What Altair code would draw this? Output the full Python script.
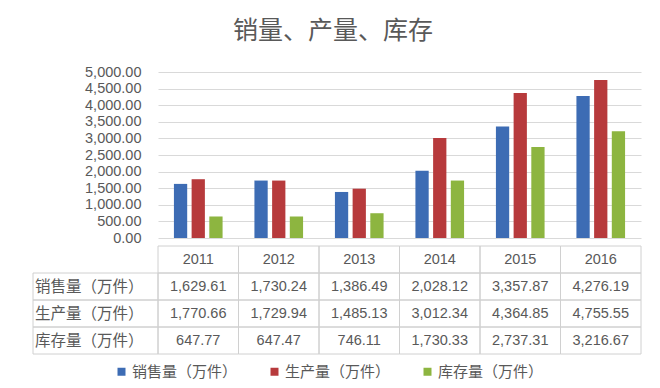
import altair as alt
import pandas as pd

# ---- data ----
years = ["2011", "2012", "2013", "2014", "2015", "2016"]
series = ["销售量（万件）", "生产量（万件）", "库存量（万件）"]
sales = [1629.61, 1730.24, 1386.49, 2028.12, 3357.87, 4276.19]
production = [1770.66, 1729.94, 1485.13, 3012.34, 4364.85, 4755.55]
inventory = [647.77, 647.47, 746.11, 1730.33, 2737.31, 3216.67]
y_ticks = [0, 500, 1000, 1500, 2000, 2500, 3000, 3500, 4000, 4500, 5000]
colors = ["#3D6CB4", "#B73A3C", "#8DB540"]

# ---- styling ----
FONT = "Liberation Sans, Noto Sans CJK SC"
CJK = "Noto Sans CJK SC"
TEXT = "#595959"
GRID = "#d9d9d9"
BORDER = "#d0d0d0"
COL_W = 80.5
LABEL_W = 125
N = len(years)
PLOT_W = COL_W * N
label_units = LABEL_W / COL_W

values = [sales, production, inventory]
bars_df = pd.DataFrame(
    [{"year": y, "series": s, "value": v}
     for s, vals in zip(series, values) for y, v in zip(years, vals)]
)

bars = alt.Chart(bars_df).mark_bar().encode(
    x=alt.X("year:N", sort=years, axis=None,
            scale=alt.Scale(paddingInner=0, paddingOuter=0)),
    xOffset=alt.XOffset("series:N", sort=series,
                        scale=alt.Scale(paddingInner=0.25, paddingOuter=0.9)),
    y=alt.Y("value:Q", scale=alt.Scale(domain=[0, 5000], nice=False),
            axis=alt.Axis(values=y_ticks, format=",.2f", title=None,
                          domain=False, ticks=False, labelPadding=17,
                          labelFontSize=14.5, labelColor=TEXT, labelFont=FONT,
                          gridColor=GRID, minExtent=LABEL_W, maxExtent=LABEL_W)),
    color=alt.Color("series:N", sort=series,
                    scale=alt.Scale(domain=series, range=colors),
                    legend=alt.Legend(orient="none", direction="horizontal",
                                      legendX=-44, legendY=292, title=None,
                                      symbolType="square", symbolSize=64,
                                      symbolStrokeWidth=0,
                                      labelFontSize=15, labelFont=CJK,
                                      labelColor=TEXT, columnPadding=29,
                                      labelOffset=3)),
).properties(width=PLOT_W, height=166)

# ---- data table under the chart ----
rows = ["header"] + series
cells = []
for i, y in enumerate(years):
    cells.append({"row": "header", "x0": i, "x1": i + 1, "xc": i + 0.5,
                  "text": y, "kind": "value"})
for s, vals in zip(series, values):
    cells.append({"row": s, "x0": -label_units, "x1": 0, "xc": -label_units / 2,
                  "text": s, "kind": "label"})
    for i, v in enumerate(vals):
        cells.append({"row": s, "x0": i, "x1": i + 1, "xc": i + 0.5,
                      "text": f"{v:,.2f}", "kind": "value"})
cells_df = pd.DataFrame(cells)

# year columns fill the plot width; the label column extends left of it
xs = alt.Scale(domain=[0, N], nice=False, zero=False)
ys = alt.Scale(domain=rows, paddingInner=0, paddingOuter=0)
base = alt.Chart(cells_df)

grid_cells = base.mark_rect(fillOpacity=0, stroke=BORDER, strokeWidth=1).encode(
    x=alt.X("x0:Q", scale=xs, axis=None),
    x2="x1:Q",
    y=alt.Y("row:N", scale=ys, axis=None, sort=rows),
)
value_text = base.transform_filter(alt.datum.kind == "value").mark_text(
    font=FONT, fontSize=14.5, color=TEXT, baseline="middle"
).encode(
    x=alt.X("xc:Q", scale=xs, axis=None),
    y=alt.Y("row:N", scale=ys, axis=None, sort=rows),
    text="text:N",
)
label_text = base.transform_filter(alt.datum.kind == "label").mark_text(
    font=CJK, fontSize=15.5, color=TEXT, baseline="middle", align="left", dx=2
).encode(
    x=alt.X("x0:Q", scale=xs, axis=None),
    y=alt.Y("row:N", scale=ys, axis=None, sort=rows),
    text="text:N",
)
table = alt.layer(grid_cells, value_text, label_text).properties(
    width=PLOT_W, height=108
)

chart = alt.vconcat(
    bars, table, spacing=0,
    title=alt.Title("销量、产量、库存", font=CJK, fontSize=25, color=TEXT,
                    fontWeight="normal", anchor="middle", offset=20, dx=-4),
).properties(
    padding={"left": 24, "right": 8, "top": 11, "bottom": 0}
).configure_view(stroke=None)

chart.save("out.html", embed_options={"renderer": "svg", "actions": False})
